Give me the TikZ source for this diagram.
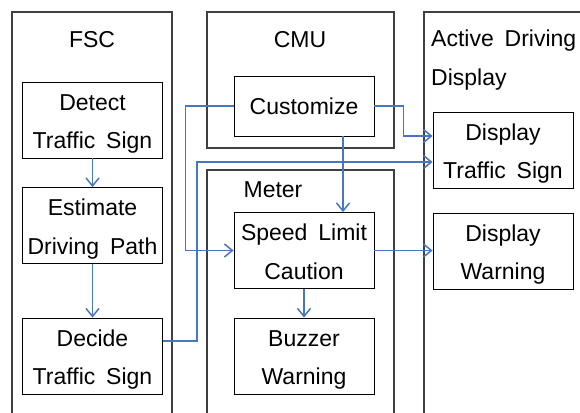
\documentclass[tikz,border=0pt]{standalone}
\usepackage{fontspec}
\setmainfont{Liberation Sans}[WordSpace=1.7]
\usepackage{tikz}
\usetikzlibrary{arrows.meta}
\definecolor{flowblue}{RGB}{70,119,191}
\definecolor{framegray}{RGB}{64,64,64}
\tikzstyle{unit}=[draw=framegray,line width=1.3pt,rectangle,inner sep=0pt]
\tikzstyle{block}=[draw=black,line width=0.8pt,rectangle,minimum width=140pt,minimum height=76pt,inner sep=0pt,align=center,text height=62pt,text depth=5pt,font=\fontsize{23}{38.5}\selectfont]
\tikzstyle{title}=[inner sep=0pt,font=\fontsize{23}{38.5}\selectfont]
\tikzstyle{flow} = [draw=flowblue,line width=1.5pt,-{Straight Barb[length=8pt,width=13pt]}]

\begin{document}
\begin{tikzpicture}[x=1pt,y=-1pt]
    \useasboundingbox (0,0) rectangle (580,412);
    % Draw the unit frames (open at the bottom of the page)
    \node[unit,minimum width=160pt,minimum height=418pt] (fsc) at (92,221) {};
    \node[unit,minimum width=187pt,minimum height=136pt] (cmu) at (300.5,80) {};
    \node[unit,minimum width=187pt,minimum height=260pt] (meter) at (300.5,300) {};
    \node[unit,minimum width=176pt,minimum height=418pt] (add) at (512,221) {};
    \node[title] (fsctitle) at (92,40) {FSC};
    \node[title] (cmutitle) at (300,40) {CMU};
    \node[title] (metertitle) at (273,190) {Meter};
    \node[title,align=left,anchor=base west] (addtitle) at (431,85) {Active Driving\\Display};

    % Then the function blocks
    \foreach \pos/\name/\txt in {{(92.5,120)/detect/{Detect\\Traffic Sign}}, {(92.5,225.5)/estimate/{Estimate\\Driving Path}}, {(92.5,356)/decide/{Decide\\Traffic Sign}}, {(304,250.5)/speed/{Speed Limit\\Caution}}, {(304,356)/buzzer/{Buzzer\\Warning}}, {(503,150)/showsign/{Display\\Traffic Sign}}, {(503,251)/showwarn/{Display\\Warning}}}
        \node[block] (\name) at \pos {\txt};
    \node[block,minimum height=60pt,text height=21pt] (customize) at (304,106) {Customize};

    % Connect blocks with arrows
    \foreach \source/ \dest in {detect/estimate, estimate/decide, speed/buzzer}
        \path[flow] (\source.south) -- (\dest.north);
    \path[flow] ([xshift=39pt]customize.south) -- ([xshift=39pt]speed.north);
    \path[flow] (customize.west) -- ++(-48,0) |- (speed.west);
    \path[flow] (customize.east) -- ++(29,0) |- ([yshift=14pt]showsign.west);
    \path[flow] ([yshift=15pt]decide.east) -- ++(34,0) |- ([yshift=-12pt]showsign.west);
    \path[flow] (speed.east) -- (speed.east -| showwarn.west);
\end{tikzpicture}
\end{document}
